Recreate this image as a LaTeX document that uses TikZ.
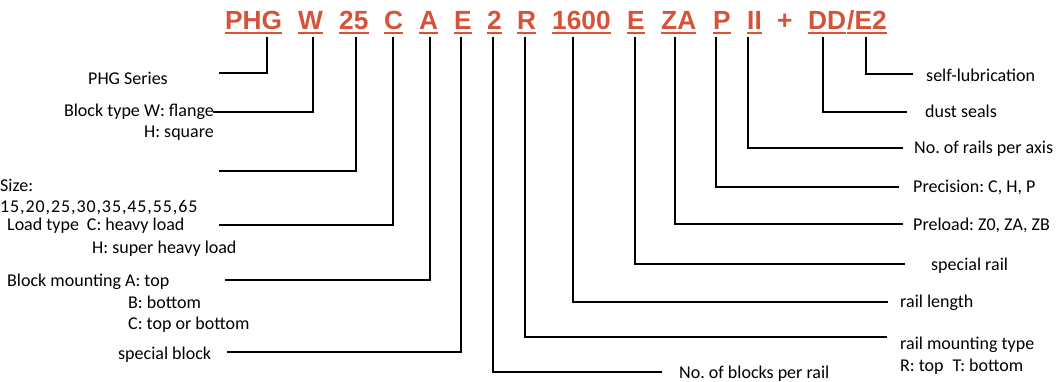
\documentclass[tikz,border=0pt]{standalone}
\usepackage{fontspec}
\setmainfont{Carlito}
\newfontfamily\codefont{Liberation Sans}
\definecolor{codered}{RGB}{214,83,56}
\frenchspacing
\tikzset{
  code/.style={font=\codefont\bfseries\fontsize{26.3}{28}\selectfont, text=codered,
    inner sep=0pt, text depth=0pt, anchor=base west},
  uline/.style={draw=codered, line width=1.5pt},
  conn/.style={draw=black, line width=2.2pt, shorten <=7pt},
  lbl/.style={font=\fontsize{18}{20}\selectfont\frenchspacing, inner sep=0pt, anchor=base west},
  lble/.style={lbl, anchor=base east},
}
\begin{document}
\begin{tikzpicture}[x=1pt,y=-1pt]
\useasboundingbox (0,0) rectangle (1060,382);
% header code
\node[code] (phg) at (225,30) {PHG};
\node[code] (w) at (298,30) {W};
\node[code] (s25) at (339,30) {25};
\node[code] (cc) at (384,30) {C};
\node[code] (aa) at (419,30) {A};
\node[code] (e1) at (454,30) {E};
\node[code] (two) at (487,30) {2};
\node[code] (rr) at (517,30) {R};
\node[code] (len) at (552,30) {1600};
\node[code] (e2) at (627,30) {E};
\node[code] (za) at (661,30) {ZA};
\node[code] (pp) at (713,30) {P};
\node[code] (ii) at (747,30) {II};
\node[code] (plus) at (777,30) {+};
\node[code] (dd) at (808,30) {DD};
\node[code] (se) at (847,30) {/E2};
\foreach \n in {phg,w,s25,cc,aa,e1,two,rr,len,e2,za,pp,ii,dd,se}
  \draw[uline] ([yshift=-3pt]\n.base west) -- ([yshift=-3pt]\n.base east);

% corners and free ends
\coordinate (k1) at (267,73);   \coordinate (f1) at (219,73);
\coordinate (k2) at (313,112);  \coordinate (f2) at (213,112);
\coordinate (k3) at (356,171);  \coordinate (f3) at (219,171);
\coordinate (k4) at (393,225);  \coordinate (f4) at (219,225);
\coordinate (k5) at (430,280);  \coordinate (f5) at (225,280);
\coordinate (k6) at (461,352);  \coordinate (f6) at (227,352);
\coordinate (k7) at (493,372);  \coordinate (f7) at (662,372);
\coordinate (k8) at (525,337);  \coordinate (f8) at (887,337);
\coordinate (k9) at (573,302);  \coordinate (f9) at (888,302);
\coordinate (k10) at (635,264); \coordinate (f10) at (905,264);
\coordinate (k11) at (675,224); \coordinate (f11) at (903,224);
\coordinate (k12) at (716,187); \coordinate (f12) at (899,187);
\coordinate (k13) at (748,148); \coordinate (f13) at (903,148);
\coordinate (k14) at (823,112); \coordinate (f14) at (907,112);
\coordinate (k15) at (866,74);  \coordinate (f15) at (913,74);

\draw[conn] (phg.south -| k1) -- (k1) -- (f1);
\draw[conn] (w.south -| k2) -- (k2) -- (f2);
\draw[conn] (s25.south -| k3) -- (k3) -- (f3);
\draw[conn] (cc.south -| k4) -- (k4) -- (f4);
\draw[conn] (aa.south -| k5) -- (k5) -- (f5);
\draw[conn] (e1.south -| k6) -- (k6) -- (f6);
\draw[conn] (two.south -| k7) -- (k7) -- (f7);
\draw[conn] (rr.south -| k8) -- (k8) -- (f8);
\draw[conn] (len.south -| k9) -- (k9) -- (f9);
\draw[conn] (e2.south -| k10) -- (k10) -- (f10);
\draw[conn] (za.south -| k11) -- (k11) -- (f11);
\draw[conn] (pp.south -| k12) -- (k12) -- (f12);
\draw[conn] (ii.south -| k13) -- (k13) -- (f13);
\draw[conn] (dd.south -| k14) -- (k14) -- (f14);
\draw[conn] (se.south -| k15) -- (k15) -- (f15);

% left labels
\node[lbl] (l1) at (88,85) {PHG Series};
\node[lble] (l2a) at (214,117) {Block type W: flange};
\node[lble] (l2b) at (214,138) {H: square};
\node[lbl] (l3a) at (0,192) {Size:};
\node[lbl] (l3b) at (0,213) {\addfontfeatures{LetterSpace=5}15,20,25,30,35,45,55,65};
\node[lbl] (l4a) at (7,231) {Load type\hspace{8pt}C: heavy load};
\node[lbl] (l4b) at (92,253) {H: super heavy load};
\node[lbl] (l5a) at (7,286) {Block mounting A: top};
\node[lbl] (l5b) at (128,308) {B: bottom};
\node[lbl] (l5c) at (128,329) {C: top or bottom};
\node[lbl] (l6) at (118,359) {special block};
% right labels
\node[lbl] (l7) at (679,378) {No. of blocks per rail};
\node[lbl] (l8a) at (900,349) {rail mounting type};
\node[lbl] (l8b) at (900,371) {R: top\hspace{9pt}T: bottom};
\node[lbl] (l9) at (900,307) {rail length};
\node[lbl] (l10) at (931,270) {special rail};
\node[lbl] (l11) at (913,231) {Preload: Z0, ZA, ZB};
\node[lbl] (l12) at (913,193) {Precision: C, H, P};
\node[lbl] (l13) at (914,154) {No. of rails per axis};
\node[lbl] (l14) at (925,118) {dust seals};
\node[lbl] (l15) at (926,82) {self-lubrication};
\end{tikzpicture}
\end{document}
